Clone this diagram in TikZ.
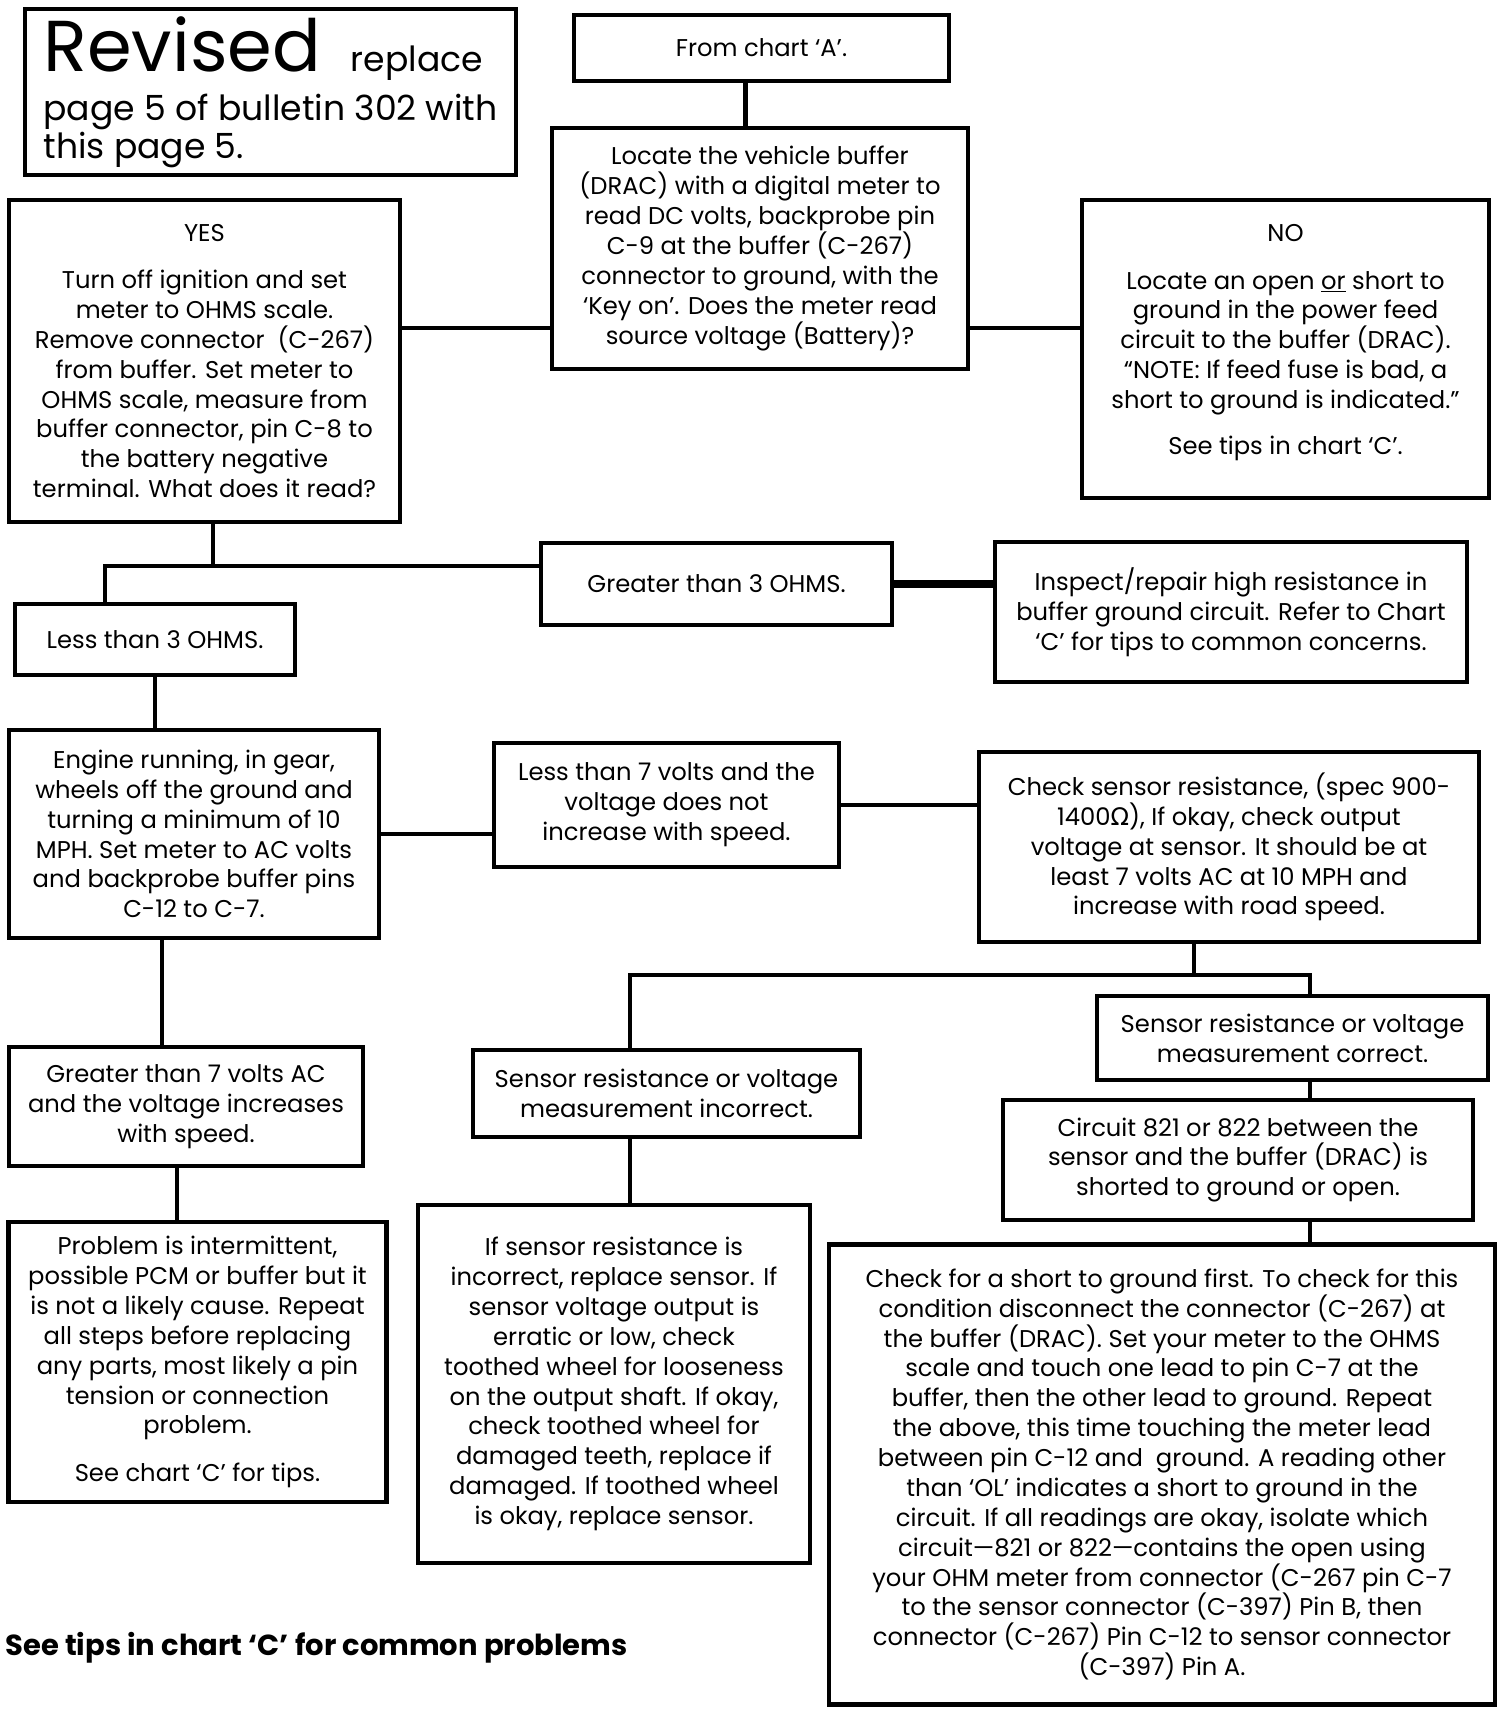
\documentclass[tikz,border=0pt]{standalone}
\usepackage{fontspec}
\setmainfont{Poppins}
\newfontfamily\ohmfont{DejaVu Sans}
\tikzset{
  chartbox/.style={draw, line width=2.6pt, align=center, inner sep=0pt, font=\fontsize{13.8}{17}\selectfont},
  link/.style={line width=2.6pt},
  heavylink/.style={line width=5pt}
}
\begin{document}
\begin{tikzpicture}[x=0.02cm,y=-0.02cm]
    \useasboundingbox (0,0) rectangle (1504,1714);
    \node[chartbox,minimum width=9.82cm,minimum height=3.32cm,align=left,font=\fontsize{19.7}{18.7}\selectfont] (revised) at (270.5,92) {{\fontsize{41}{41}\selectfont Revised}\hspace{0.6cm}replace\\[7pt]page 5 of bulletin 302 with\\this page 5.};
    \node[chartbox,minimum width=7.5cm,minimum height=1.32cm]   (fromA)     at (761.5,48)    {From chart ‘A’.};
    \node[chartbox,minimum width=8.32cm,minimum height=4.82cm]  (locate)    at (760,248.5)   {Locate the vehicle buffer\\(DRAC) with a digital meter to\\read DC volts, backprobe pin\\C-9 at the buffer (C-267)\\connector to ground, with the\\‘Key on’. Does the meter read\\source voltage (Battery)?};
    \node[chartbox,minimum width=7.82cm,minimum height=6.44cm]  (yes)       at (204.5,361)   {YES\\[10pt]Turn off ignition and set\\meter to OHMS scale.\\Remove connector~~(C-267)\\from buffer. Set meter to\\OHMS scale, measure from\\buffer connector, pin C-8 to\\the battery negative\\terminal. What does it read?};
    \node[chartbox,minimum width=8.14cm,minimum height=5.96cm]  (no)        at (1285.5,349)  {NO\\[10pt]Locate an open \underline{or} short to\\ground in the power feed\\circuit to the buffer (DRAC).\\“NOTE: If feed fuse is bad, a\\short to ground is indicated.”\\[9pt]See tips in chart ‘C’.\\[-6pt]\mbox{}};
    \node[chartbox,minimum width=7.02cm,minimum height=1.64cm]  (gt3)       at (716.5,584)   {Greater than 3 OHMS.};
    \node[chartbox,minimum width=9.44cm,minimum height=2.8cm]   (inspect)   at (1231,612)    {Inspect/repair high resistance in\\buffer ground circuit. Refer to Chart\\‘C’ for tips to common concerns.};
    \node[chartbox,minimum width=5.6cm,minimum height=1.42cm]   (lt3)       at (155,639.5)   {Less than 3 OHMS.};
    \node[chartbox,minimum width=7.4cm,minimum height=4.16cm]   (engine)    at (194,834)     {Engine running, in gear,\\wheels off the ground and\\turning a minimum of 10\\MPH. Set meter to AC volts\\and backprobe buffer pins\\C-12 to C-7.};
    \node[chartbox,minimum width=6.9cm,minimum height=2.48cm]   (lt7)       at (666.5,805)   {Less than 7 volts and the\\voltage does not\\increase with speed.};
    \node[chartbox,minimum width=10cm,minimum height=3.8cm]     (check)     at (1229,847)    {Check sensor resistance, (spec 900-\\1400{\ohmfont Ω}), If okay, check output\\voltage at sensor. It should be at\\least 7 volts AC at 10 MPH and\\increase with road speed.};
    \node[chartbox,minimum width=7.82cm,minimum height=1.68cm]  (correct)   at (1292.5,1038) {Sensor resistance or voltage\\measurement correct.};
    \node[chartbox,minimum width=7.74cm,minimum height=1.74cm]  (incorrect) at (666.5,1093.5) {Sensor resistance or voltage\\measurement incorrect.};
    \node[chartbox,minimum width=9.4cm,minimum height=2.4cm]    (circuit)   at (1238,1160)   {Circuit 821 or 822 between the\\sensor and the buffer (DRAC) is\\shorted to ground or open.};
    \node[chartbox,minimum width=7.08cm,minimum height=2.38cm]  (gt7)       at (186,1106.5)  {Greater than 7 volts AC\\and the voltage increases\\with speed.};
    \node[chartbox,minimum width=7.56cm,minimum height=5.6cm]   (problem)   at (197.5,1362)  {Problem is intermittent,\\possible PCM or buffer but it\\is not a likely cause. Repeat\\all steps before replacing\\any parts, most likely a pin\\tension or connection\\problem.\\[10pt]See chart ‘C’ for tips.};
    \node[chartbox,minimum width=7.84cm,minimum height=7.16cm]  (ifsensor)  at (614,1384)    {If sensor resistance is\\incorrect, replace sensor. If\\sensor voltage output is\\erratic or low, check\\toothed wheel for looseness\\on the output shaft. If okay,\\check toothed wheel for\\damaged teeth, replace if\\damaged. If toothed wheel\\is okay, replace sensor.};
    \node[chartbox,minimum width=13.32cm,minimum height=9.2cm]  (shortchk)  at (1162,1474.5) {Check for a short to ground first. To check for this\\condition disconnect the connector (C-267) at\\the buffer (DRAC). Set your meter to the OHMS\\scale and touch one lead to pin C-7 at the\\buffer, then the other lead to ground. Repeat\\the above, this time touching the meter lead\\between pin C-12 and~~ground. A reading other\\than ‘OL’ indicates a short to ground in the\\circuit. If all readings are okay, isolate which\\circuit—821 or 822—contains the open using\\your OHM meter from connector (C-267 pin C-7\\to the sensor connector (C-397) Pin B, then\\connector (C-267) Pin C-12 to sensor connector\\(C-397) Pin A.};
    \node[anchor=west,inner sep=0pt,font=\bfseries\fontsize{16.5}{19}\selectfont] (footer) at (5,1648) {See tips in chart ‘C’ for common problems};
    \coordinate (yn)      at (0,328);
    \coordinate (ysplit)  at (213,566);
    \coordinate (lsplit)  at (105,566);
    \coordinate (csplit)  at (1194,975);
    \coordinate (csplitl) at (630,975);
    \coordinate (csplitr) at (1310,975);
    \draw[link]      ([xshift=-0.32cm]fromA.south) -- ([xshift=-0.32cm]fromA.south |- locate.north);
    \draw[link]      (yes.east |- yn) -- (locate.west |- yn);
    \draw[link]      (locate.east |- yn) -- (no.west |- yn);
    \draw[link]      (yes.south -| ysplit) -- (ysplit);
    \draw[link]      (lt3.north -| lsplit) -- (lsplit) -- (gt3.west |- lsplit);
    \draw[heavylink] (gt3.east) -- (inspect.west |- gt3.east);
    \draw[link]      (lt3.south) -- (engine.north -| lt3.south);
    \draw[link]      (engine.east) -- (lt7.west |- engine.east);
    \draw[link]      (lt7.east) -- (check.west |- lt7.east);
    \draw[link]      (check.south -| csplit) -- (csplit);
    \draw[link]      (incorrect.north -| csplitl) -- (csplitl) -- (csplitr) -- (correct.north -| csplitr);
    \draw[link]      (correct.south -| csplitr) -- (circuit.north -| csplitr);
    \draw[link]      (circuit.south -| csplitr) -- (shortchk.north -| csplitr);
    \draw[link]      (incorrect.south -| csplitl) -- (ifsensor.north -| csplitl);
    \draw[link]      (engine.south -| 162,0) -- (gt7.north -| 162,0);
    \draw[link]      (gt7.south -| 177,0) -- (problem.north -| 177,0);
\end{tikzpicture}
\end{document}
